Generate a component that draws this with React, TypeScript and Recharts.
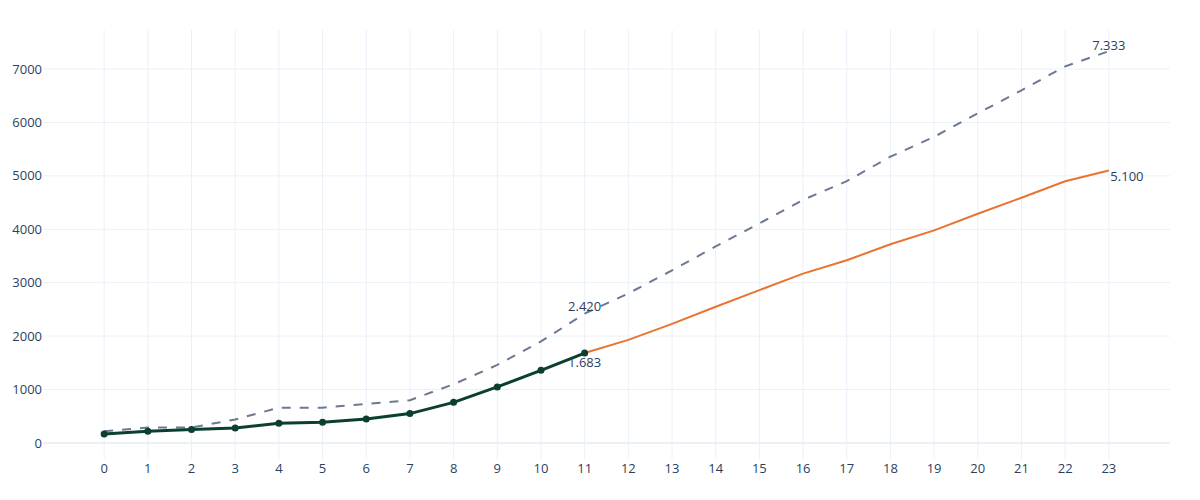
import React from 'react';
import { LineChart, Line, XAxis, YAxis, CartesianGrid, ReferenceLine } from 'recharts';

const steps = [0, 1, 2, 3, 4, 5, 6, 7, 8, 9, 10, 11, 12, 13, 14, 15, 16, 17, 18, 19, 20, 21, 22, 23];
const actual: (number | null)[] = [170, 220, 250, 280, 370, 390, 450, 550, 760, 1050, 1360, 1683,
  null, null, null, null, null, null, null, null, null, null, null, null];
const forecast: (number | null)[] = [null, null, null, null, null, null, null, null, null, null, null, 1683,
  1930, 2230, 2550, 2860, 3170, 3420, 3720, 3980, 4290, 4590, 4900, 5100];
const upper: number[] = [220, 290, 290, 440, 660, 660, 730, 800, 1100, 1460, 1900, 2420,
  2800, 3230, 3680, 4110, 4550, 4900, 5360, 5730, 6170, 6600, 7050, 7333];
const yTicks = [0, 1000, 2000, 3000, 4000, 5000, 6000, 7000];

const data = steps.map((x, i) => ({ x, actual: actual[i], forecast: forecast[i], upper: upper[i] }));

const FONT = '"Open Sans", sans-serif';
const FS = 13;
const TXT = '#2a3f5f';
const GRID = '#EBF0F8';
const fmt = (v: number) => (v / 1000).toFixed(3);

const upperLabel = (p: any) => {
  const { x, y, index, value } = p;
  if (index === 11) return <text x={x} y={y - 3.1} textAnchor="middle" fontFamily={FONT} fontSize={FS} fill={TXT}>{fmt(value)}</text>;
  if (index === 23) return <text x={x} y={y - 1.4} textAnchor="middle" fontFamily={FONT} fontSize={FS} fill={TXT}>{fmt(value)}</text>;
  return null;
};
const actualLabel = (p: any) => {
  const { x, y, index, value } = p;
  if (index === 11) return <text x={x} y={y + 13.6} textAnchor="middle" fontFamily={FONT} fontSize={FS} fill={TXT}>{fmt(value)}</text>;
  return null;
};
const forecastLabel = (p: any) => {
  const { x, y, index, value } = p;
  if (index === 23) return <text x={x + 1.5} y={y + 10.1} textAnchor="start" fontFamily={FONT} fontSize={FS} fill={TXT}>{fmt(value)}</text>;
  return null;
};

export default function App() {
  return (
    <div style={{ position: 'absolute', left: 0, top: 0, width: 1200, height: 500, background: '#fff' }}>
      <LineChart width={1200} height={500} data={data} margin={{ top: 30, right: 30, bottom: 11, left: 0 }}>
        <CartesianGrid stroke={GRID} strokeWidth={1} verticalValues={steps} horizontalValues={yTicks} />
        <ReferenceLine y={0} stroke={GRID} strokeWidth={2} />
        <XAxis dataKey="x" type="number" domain={[-1.4, 24.4]} ticks={steps} allowDataOverflow
          axisLine={false} tickLine={false} tickSize={0} tickMargin={5} height={30} interval={0}
          tick={{ fontFamily: FONT, fontSize: FS, fill: TXT }} />
        <YAxis type="number" domain={[-300, 7730]} ticks={yTicks} allowDataOverflow width={43}
          axisLine={false} tickLine={false} tickSize={0} tickMargin={1} interval={0}
          tick={{ fontFamily: FONT, fontSize: FS, fill: TXT }} />
        <Line dataKey="upper" type="linear" stroke="#6b7a90" strokeWidth={2} strokeDasharray="9 9"
          dot={false} activeDot={false} isAnimationActive={false} label={upperLabel} />
        <Line dataKey="forecast" type="linear" stroke="#e8742f" strokeWidth={2}
          dot={false} activeDot={false} isAnimationActive={false} label={forecastLabel} />
        <Line dataKey="actual" type="linear" stroke="#0b3f30" strokeWidth={3}
          dot={{ r: 3.5, fill: '#0b3f30', stroke: '#0b3f30', strokeWidth: 0 }} activeDot={false}
          isAnimationActive={false} label={actualLabel} />
      </LineChart>
    </div>
  );
}
